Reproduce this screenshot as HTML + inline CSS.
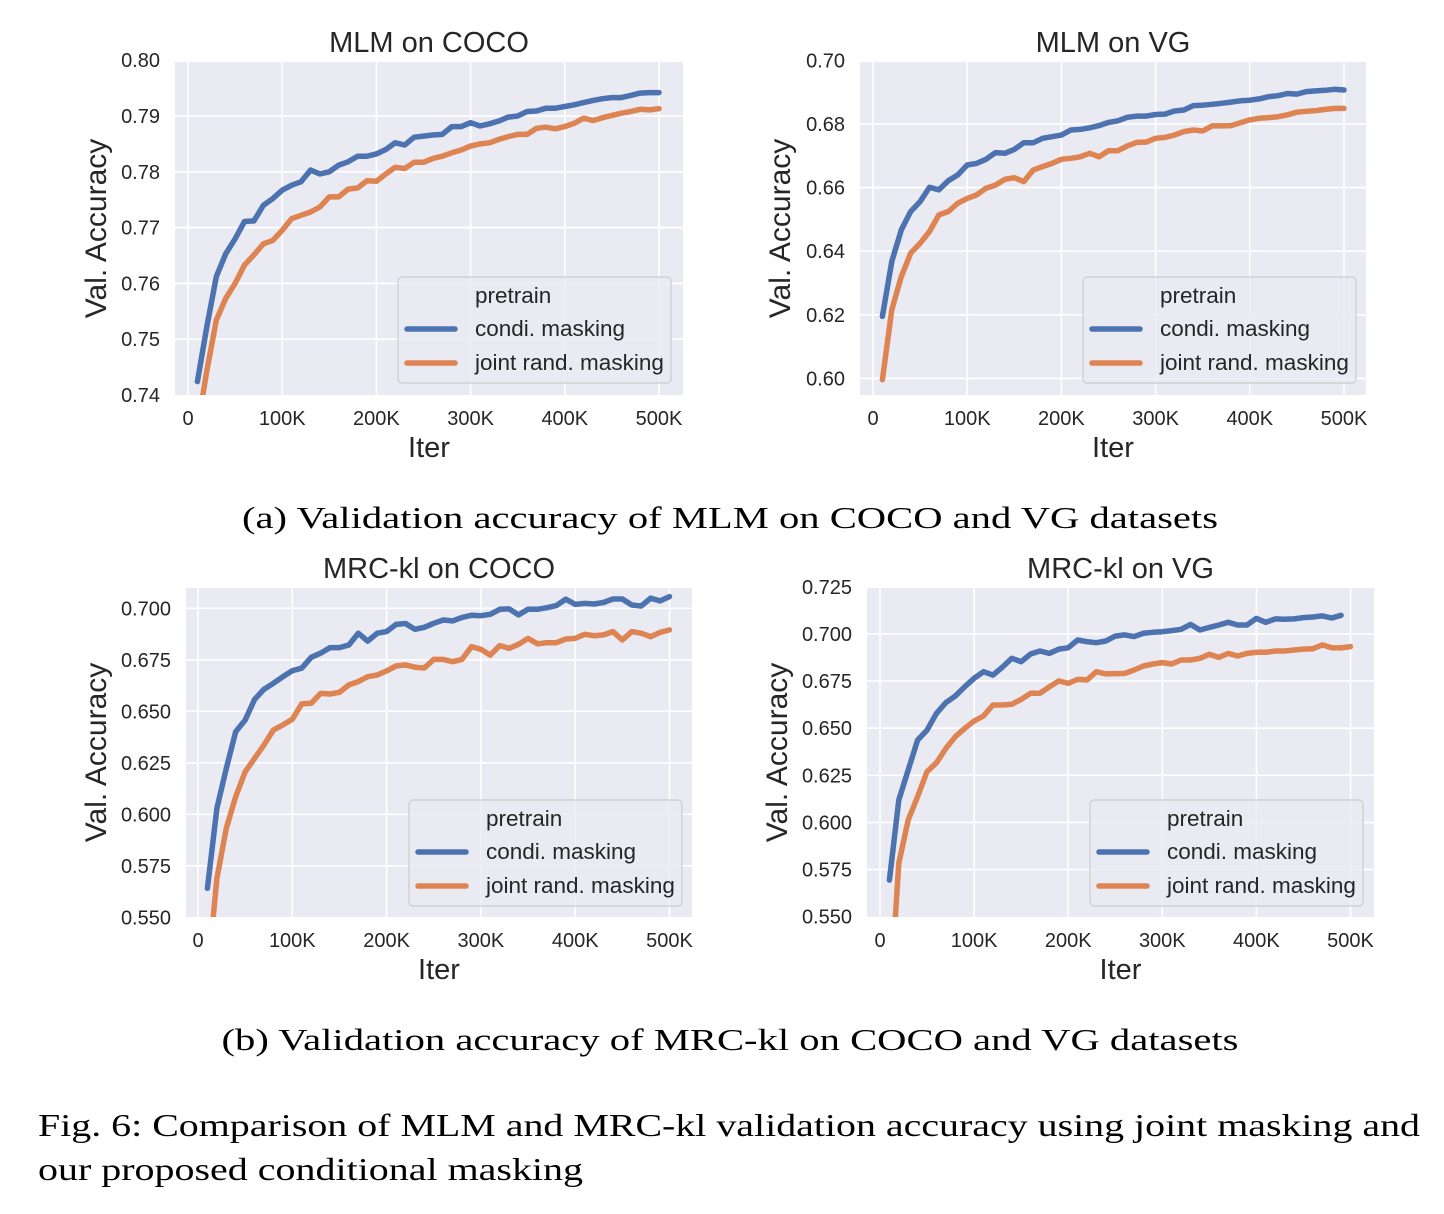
<!DOCTYPE html>
<html><head><meta charset="utf-8"><style>
html,body{margin:0;padding:0;background:#fff;overflow:hidden;}
svg{display:block;}
.sans{font-family:"Liberation Sans","DejaVu Sans",sans-serif;fill:#262626;}
.serif{font-family:"Liberation Serif","DejaVu Serif",serif;fill:#000;}
</style></head><body>
<svg id="fig" width="1444" height="1214" viewBox="0 0 1444 1214" xmlns="http://www.w3.org/2000/svg">
<text class="serif" x="730" y="528" font-size="31" text-anchor="middle" textLength="976" lengthAdjust="spacingAndGlyphs">(a) Validation accuracy of MLM on COCO and VG datasets</text>
<text class="serif" x="730" y="1050" font-size="31" text-anchor="middle" textLength="1017" lengthAdjust="spacingAndGlyphs">(b) Validation accuracy of MRC-kl on COCO and VG datasets</text>
<text class="serif" x="38" y="1136" font-size="32" textLength="1382" lengthAdjust="spacingAndGlyphs">Fig. 6: Comparison of MLM and MRC-kl validation accuracy using joint masking and</text>
<text class="serif" x="38" y="1180" font-size="32" textLength="545" lengthAdjust="spacingAndGlyphs">our proposed conditional masking</text>
</svg>
<script>
const iters = [10,20,30,40,50,60,70,80,90,100,110,120,130,140,150,160,170,180,190,200,210,220,230,240,250,260,270,280,290,300,310,320,330,340,350,360,370,380,390,400,410,420,430,440,450,460,470,480,490,500];
const xTicks = [0,100,200,300,400,500];
const xTickLabels = ["0","100K","200K","300K","400K","500K"];

const c1Blue = [0.7424,0.7522,0.7612,0.7653,0.768,0.7711,0.7712,0.774,0.7752,0.7767,0.7776,0.7782,0.7803,0.7796,0.78,0.7812,0.7818,0.7828,0.7828,0.7832,0.784,0.7852,0.7848,0.7862,0.7864,0.7866,0.7867,0.7881,0.7881,0.7888,0.7882,0.7886,0.7891,0.7898,0.79,0.7908,0.7909,0.7914,0.7914,0.7917,0.792,0.7924,0.7928,0.7931,0.7933,0.7933,0.7937,0.7941,0.7942,0.7942];
const c1Orange = [0.734,0.7443,0.7534,0.7573,0.76,0.7633,0.7651,0.7671,0.7677,0.7695,0.7716,0.7722,0.7728,0.7737,0.7755,0.7755,0.7769,0.7771,0.7784,0.7783,0.7796,0.7808,0.7806,0.7817,0.7817,0.7824,0.7828,0.7834,0.7839,0.7846,0.785,0.7852,0.7858,0.7863,0.7867,0.7867,0.7878,0.788,0.7877,0.7881,0.7887,0.7896,0.7892,0.7897,0.7901,0.7905,0.7908,0.7912,0.7911,0.7913];
const c1YTicks = [0.74,0.75,0.76,0.77,0.78,0.79,0.80];
const c1YLabels = ["0.74","0.75","0.76","0.77","0.78","0.79","0.80"];

const c2Blue = [0.6195,0.6368,0.6467,0.6525,0.6556,0.6601,0.6593,0.6622,0.664,0.6671,0.6676,0.6689,0.671,0.6708,0.672,0.6741,0.6741,0.6755,0.676,0.6765,0.6781,0.6783,0.6788,0.6795,0.6805,0.681,0.6821,0.6825,0.6825,0.683,0.6831,0.6841,0.6844,0.6858,0.6859,0.6862,0.6865,0.6869,0.6873,0.6875,0.6879,0.6886,0.6889,0.6896,0.6894,0.6902,0.6904,0.6906,0.6909,0.6907];
const c2Orange = [0.5996,0.6216,0.632,0.6394,0.6425,0.6462,0.6514,0.6525,0.6551,0.6566,0.6577,0.6598,0.6608,0.6626,0.6631,0.6619,0.6655,0.6666,0.6676,0.6689,0.6692,0.6697,0.6708,0.6697,0.6716,0.6716,0.6731,0.6742,0.6743,0.6755,0.6758,0.6765,0.6776,0.6781,0.6778,0.6794,0.6794,0.6795,0.6804,0.6813,0.6818,0.682,0.6823,0.6829,0.6837,0.684,0.6842,0.6846,0.6849,0.6849];
const c2YTicks = [0.60,0.62,0.64,0.66,0.68,0.70];
const c2YLabels = ["0.60","0.62","0.64","0.66","0.68","0.70"];

const c3Blue = [0.5641,0.6029,0.6223,0.6401,0.6458,0.6558,0.6607,0.6636,0.6668,0.6697,0.6709,0.6762,0.6782,0.6809,0.6809,0.6822,0.6879,0.6841,0.6879,0.6887,0.6922,0.6926,0.6898,0.6908,0.6927,0.6943,0.6939,0.6956,0.6966,0.6964,0.6971,0.6995,0.6997,0.6968,0.6995,0.6995,0.7003,0.7013,0.7044,0.7019,0.7024,0.7021,0.7028,0.7045,0.7045,0.7016,0.7011,0.7049,0.7036,0.7057];
const c3Orange = [0.52,0.569,0.5932,0.6086,0.6207,0.6272,0.6337,0.6409,0.6434,0.6461,0.6536,0.6539,0.6587,0.6584,0.6592,0.6628,0.6644,0.6668,0.6676,0.6696,0.672,0.6725,0.6714,0.671,0.6752,0.6752,0.6741,0.6752,0.6814,0.6801,0.6773,0.6819,0.6806,0.6825,0.6854,0.6827,0.6833,0.6833,0.6851,0.6854,0.6874,0.6867,0.6871,0.6887,0.6846,0.6887,0.6879,0.6862,0.6883,0.6895];
const c3YTicks = [0.550,0.575,0.600,0.625,0.650,0.675,0.700];
const c3YLabels = ["0.550","0.575","0.600","0.625","0.650","0.675","0.700"];

const c4Blue = [0.5694,0.6119,0.6278,0.6437,0.649,0.6579,0.6636,0.6671,0.672,0.6765,0.68,0.6782,0.6823,0.6871,0.6853,0.6894,0.691,0.6897,0.692,0.6927,0.6968,0.6959,0.6954,0.6963,0.6989,0.6995,0.6986,0.7004,0.7009,0.7012,0.7018,0.7025,0.7051,0.7021,0.7035,0.7048,0.7062,0.7048,0.7048,0.7083,0.7062,0.708,0.7078,0.708,0.7087,0.709,0.7096,0.7085,0.7099];
const c4Orange = [0.50,0.5783,0.6013,0.6137,0.6269,0.6317,0.6393,0.6455,0.6499,0.6538,0.6565,0.6623,0.6623,0.6627,0.6653,0.6685,0.6685,0.672,0.6751,0.6738,0.6759,0.6756,0.68,0.6788,0.679,0.6791,0.6809,0.683,0.6841,0.6848,0.6841,0.6862,0.6862,0.6871,0.6892,0.6876,0.6897,0.6883,0.6897,0.6903,0.6903,0.691,0.691,0.6915,0.692,0.6922,0.6942,0.6927,0.6926,0.6933];
const c4YTicks = [0.550,0.575,0.600,0.625,0.650,0.675,0.700,0.725];
const c4YLabels = ["0.550","0.575","0.600","0.625","0.650","0.675","0.700","0.725"];

const NS = "http://www.w3.org/2000/svg";
const svg = document.getElementById('fig');
function mk(tag, attrs, parent){ const e=document.createElementNS(NS,tag); for(const k in attrs) e.setAttribute(k,attrs[k]); (parent||svg).appendChild(e); return e; }

function drawChart(id, title, L, blue, orange, yTicks, yLabels){
  const g = mk('g',{});
  
  
  const xs = v => L.x0 + v*L.xs;
  const ys = v => L.yRefPx - (v - L.yRef)*L.ys;
  const bg = mk('rect',{x:L.left,y:L.top,width:L.right-L.left,height:L.bottom-L.top,fill:'#eaeaf2'},g);
  
  
  const clipId = 'clip-'+id;
  const cp = mk('clipPath',{id:clipId},g);
  mk('rect',{x:L.left,y:L.top,width:L.right-L.left,height:L.bottom-L.top},cp);
  yTicks.forEach((t,i)=>{
    const y = ys(t);
    if (y < L.top-4 || y > L.bottom+4) return;
    if (y > L.top+1 && y < L.bottom-1) {
      const gl = mk('line',{x1:L.left,x2:L.right,y1:y,y2:y,stroke:'#fff','stroke-width':1.6},g);
      
      
    }
    const tx = mk('text',{x:L.left-15,y:y+7,'font-size':20,'text-anchor':'end',class:'sans'},g);
    
    
    tx.textContent = yLabels[i];
  });
  xTicks.forEach((t,i)=>{
    const x = xs(t);
    const gl = mk('line',{x1:x,x2:x,y1:L.top,y2:L.bottom,stroke:'#fff','stroke-width':1.6},g);
    
    
    const tx = mk('text',{x:x,y:L.bottom+30,'font-size':20,'text-anchor':'middle',class:'sans'},g);
    
    
    tx.textContent = xTickLabels[i];
  });
  [[orange,'#dd8452','series-joint-rand-masking'],[blue,'#4c72b0','series-condi-masking']].forEach(([vals,col,nm])=>{
    const pts = vals.map((v,i)=>xs(iters[i]).toFixed(1)+','+ys(v).toFixed(1)).join(' ');
    const pl = mk('polyline',{points:pts,fill:'none',stroke:col,'stroke-width':5.5,'stroke-linejoin':'round','stroke-linecap':'round','clip-path':'url(#'+clipId+')'},g);
    
    
  });
  const cx = (L.left+L.right)/2;
  const tt = mk('text',{x:cx,y:L.top-10,'font-size':29,'text-anchor':'middle',class:'sans'},g);
  
  
  tt.textContent = title;
  const xl = mk('text',{x:cx,y:L.bottom+62,'font-size':29,'text-anchor':'middle',class:'sans'},g);
  
  
  xl.textContent = 'Iter';
  const cy = (L.top+L.bottom)/2;
  const yl = mk('text',{x:L.ylx,y:cy,'font-size':30,'text-anchor':'middle',class:'sans',transform:'rotate(-90 '+L.ylx+' '+cy+')'},g);
  
  
  yl.textContent = 'Val. Accuracy';
  const lg = mk('g',{},g);
  
  
  mk('rect',{x:L.lgx,y:L.lgy,width:273,height:106,rx:4,fill:'#eaeaf2','fill-opacity':0.8,stroke:'#cccccc','stroke-width':1.2},lg);
  const lt = mk('text',{x:L.lgx+77,y:L.lgy+26,'font-size':22.5,class:'sans'},lg);
  
  
  lt.textContent = 'pretrain';
  [['condi. masking','#4c72b0',59],['joint rand. masking','#dd8452',93]].forEach(([lab,col,dy])=>{
    const ln = mk('line',{x1:L.lgx+9,x2:L.lgx+57,y1:L.lgy+dy-7,y2:L.lgy+dy-7,stroke:col,'stroke-width':5.5,'stroke-linecap':'round'},lg);
    
    
    const tx = mk('text',{x:L.lgx+77,y:L.lgy+dy,'font-size':22.5,class:'sans'},lg);
    
    
    tx.textContent = lab;
  });
}

drawChart('chart-mlm-coco','MLM on COCO',
  {left:175,right:683,top:62,bottom:395,x0:188,xs:0.942,yRef:0.79,yRefPx:116,ys:5580,ylx:106,lgx:398,lgy:277},
  c1Blue,c1Orange,c1YTicks,c1YLabels);
drawChart('chart-mlm-vg','MLM on VG',
  {left:860,right:1366,top:62,bottom:395,x0:873,xs:0.942,yRef:0.68,yRefPx:124,ys:3180,ylx:790,lgx:1083,lgy:277},
  c2Blue,c2Orange,c2YTicks,c2YLabels);
drawChart('chart-mrc-coco','MRC-kl on COCO',
  {left:186,right:692,top:588,bottom:917,x0:198,xs:0.943,yRef:0.70,yRefPx:608.3,ys:2060,ylx:106,lgx:409,lgy:800},
  c3Blue,c3Orange,c3YTicks,c3YLabels);
drawChart('chart-mrc-vg','MRC-kl on VG',
  {left:867,right:1374,top:588,bottom:917,x0:880,xs:0.941,yRef:0.70,yRefPx:634,ys:1884,ylx:787,lgx:1090,lgy:800},
  c4Blue,c4Orange,c4YTicks,c4YLabels);
</script>
</body></html>
